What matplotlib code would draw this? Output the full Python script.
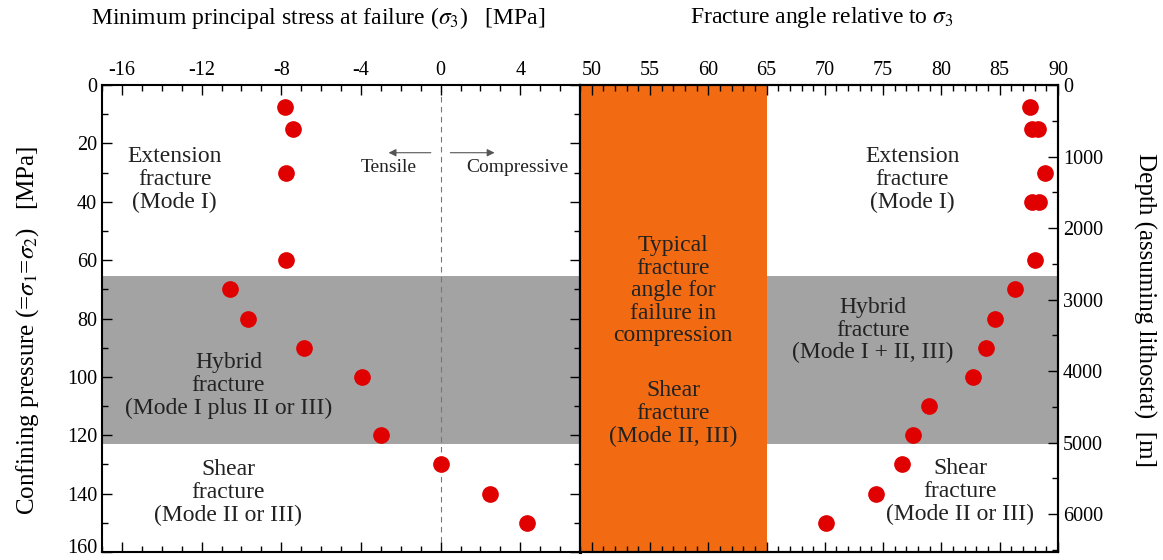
import matplotlib.pyplot as plt
from matplotlib.ticker import MultipleLocator
from matplotlib.transforms import ScaledTranslation

# data
stress_pressure = [7.5, 15, 30, 60, 70, 80, 90, 100, 120, 130, 140, 150]
stress_sigma3 = [-7.8, -7.4, -7.75, -7.75, -10.55, -9.65, -6.85, -3.95, -3.0, 0.0, 2.5, 4.35]

angle_pressure = [7.5, 15, 15, 30, 40, 40, 60, 70, 80, 90, 100, 110, 120, 130, 140, 150]
angle_deg = [87.6, 87.8, 88.3, 88.9, 87.8, 88.4, 88.0, 86.3, 84.6, 83.85, 82.7, 78.9, 77.6, 76.65, 74.4, 70.1]

pressure_ticks = [0, 20, 40, 60, 80, 100, 120, 140, 160]
hybrid_band = (65.6, 123.0)      # MPa
compression_band = (49, 65)      # degrees
mpa_per_m = 0.0245               # lithostatic gradient

plt.rcParams['font.family'] = ['Liberation Serif', 'DejaVu Serif']
plt.rcParams['mathtext.fontset'] = 'stix'
plt.rcParams['axes.unicode_minus'] = False

fig = plt.figure(figsize=(11.63, 5.6), dpi=100)
ax1 = fig.add_axes([102 / 1163, 8 / 560, 478 / 1163, 467 / 560])
ax2 = fig.add_axes([580 / 1163, 8 / 560, 478 / 1163, 467 / 560])

red = '#e00000'
gray = '#a3a3a3'
orange = '#f26b12'
txt = dict(ha='center', va='center', fontsize=17, color='#222222', linespacing=1.1)
tick_size = 14.5

# ---- left panel: sigma3 at failure
ax1.axhspan(*hybrid_band, color=gray, lw=0, zorder=0)
ax1.axvline(0, color='#777777', lw=0.8, ls=(0, (5, 4)), zorder=1)
ax1.plot(stress_sigma3, stress_pressure, 'o', color=red, ms=11, zorder=3)
ax1.set_xlim(-17, 7)
ax1.set_ylim(160, 0)
ax1.xaxis.set_major_locator(MultipleLocator(4))
ax1.xaxis.set_minor_locator(MultipleLocator(1))
ax1.set_yticks(pressure_ticks)
ax1.yaxis.set_minor_locator(MultipleLocator(10))
ax1.tick_params(which='both', direction='in', top=True, bottom=True, left=True, right=True,
                labeltop=True, labelbottom=False, labelsize=tick_size, width=1)
ax1.tick_params(which='major', length=7)
ax1.tick_params(which='minor', length=4)
ax1.set_xticks([-16, -12, -8, -4, 0, 4])

# nudge the bottom "160" label up so it stays inside the figure
last = ax1.yaxis.get_major_ticks()[-1].label1
last.set_transform(last.get_transform() + ScaledTranslation(0, 4 / 72, fig.dpi_scale_trans))

ax1.text(-13.35, 32.4, 'Extension\nfracture\n(Mode I)', **txt)
ax1.text(-10.65, 103, 'Hybrid\nfracture\n(Mode I plus II or III)', **txt)
ax1.text(-10.65, 139.6, 'Shear\nfracture\n(Mode II or III)', **txt)
ax1.annotate('', xy=(-2.75, 23.2), xytext=(-0.35, 23.2),
             arrowprops=dict(arrowstyle='-|>', color='#555555', lw=0.8, mutation_scale=11))
ax1.annotate('', xy=(2.85, 23.2), xytext=(0.35, 23.2),
             arrowprops=dict(arrowstyle='-|>', color='#555555', lw=0.8, mutation_scale=11))
ax1.text(-2.6, 28.4, 'Tensile', ha='center', va='center', fontsize=14, color='#222222')
ax1.text(3.85, 28.4, 'Compressive', ha='center', va='center', fontsize=14, color='#222222')

# ---- right panel: fracture angle
ax2.axhspan(*hybrid_band, color=gray, lw=0, zorder=0)
ax2.axvspan(*compression_band, color=orange, lw=0, zorder=1)
ax2.plot(angle_deg, angle_pressure, 'o', color=red, ms=11, zorder=3)
ax2.set_xlim(49, 90)
ax2.set_ylim(160, 0)
ax2.xaxis.set_major_locator(MultipleLocator(5))
ax2.xaxis.set_minor_locator(MultipleLocator(1))
ax2.set_yticks([])
ax2.tick_params(which='both', direction='in', top=True, bottom=True, left=False, right=False,
                labeltop=True, labelbottom=False, labelsize=tick_size, width=1)
ax2.tick_params(which='major', length=7)
ax2.tick_params(which='minor', length=4)

ax2.text(57, 70.5, 'Typical\nfracture\nangle for\nfailure in\ncompression', **txt)
ax2.text(57, 112.5, 'Shear\nfracture\n(Mode II, III)', **txt)
ax2.text(77.5, 32.4, 'Extension\nfracture\n(Mode I)', **txt)
ax2.text(74.1, 84, 'Hybrid\nfracture\n(Mode I + II, III)', **txt)
ax2.text(81.6, 139.3, 'Shear\nfracture\n(Mode II or III)', **txt)

depth = ax2.twinx()
depth.set_ylim(160 / mpa_per_m, 0)
depth.yaxis.set_major_locator(MultipleLocator(1000))
depth.yaxis.set_minor_locator(MultipleLocator(500))
depth.tick_params(which='both', direction='in', labelsize=tick_size, width=1)
depth.tick_params(which='major', length=7)
depth.tick_params(which='minor', length=4)

for a in (ax1, ax2, depth):
    for s in a.spines.values():
        s.set_linewidth(1.5)
ax1.spines['right'].set_linewidth(2.2)

fig.text(318 / 1163, 1 - 18 / 560, r'Minimum principal stress at failure ($\sigma_3$)   [MPa]',
         ha='center', va='center', fontsize=17)
fig.text(822 / 1163, 1 - 18 / 560, r'Fracture angle relative to $\sigma_3$',
         ha='center', va='center', fontsize=17)
fig.text(28 / 1163, 1 - 330 / 560, r'Confining pressure (=$\sigma_1$=$\sigma_2$)   [MPa]',
         ha='center', va='center', rotation=90, fontsize=18)
fig.text(1145 / 1163, 1 - 310 / 560, 'Depth (assuming lithostat)  [m]',
         ha='center', va='center', rotation=270, fontsize=18)

fig.savefig('out.png', dpi=100)
